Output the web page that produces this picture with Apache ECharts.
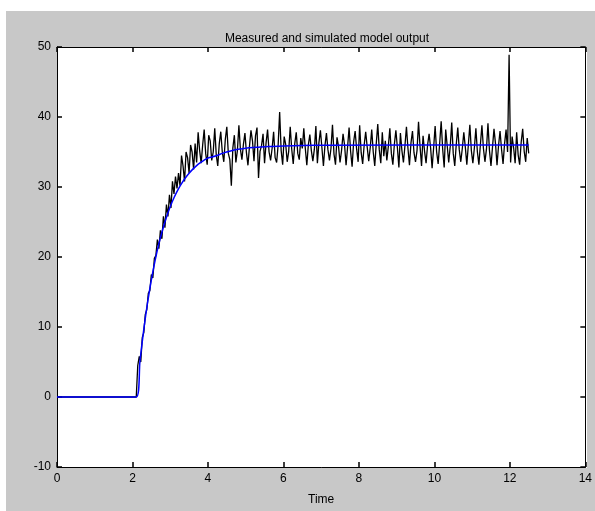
<!DOCTYPE html>
<html>
<head>
<meta charset="utf-8">
<title>Measured and simulated model output</title>
<script src="https://cdn.jsdelivr.net/npm/echarts@6/dist/echarts.min.js"></script>
<style>
    html, body {
        margin: 0;
        padding: 0;
        background: #fff;
    }
    .figure {
        position: absolute;
        left: 6px;
        top: 11px;
        width: 589px;
        height: 500px;
        background: #c8c8c8;
    }
    .plot-bg {
        position: absolute;
        left: 57px;
        top: 47px;
        width: 530px;
        height: 421px;
        background: #fff;
    }
    #chart {
        position: absolute;
        left: 0;
        top: 0;
        width: 595px;
        height: 511px;
    }
</style>
</head>
<body>
<div class="figure"></div>
<div class="plot-bg"></div>
<div id="chart"></div>
<script>
// axis ticks
var xTicks = [0, 2, 4, 6, 8, 10, 12, 14];
var yTicks = [-10, 0, 10, 20, 30, 40, 50];

// simulated model output (blue)
var simTime = [0, 2.1, 2.2, 2.3, 2.4, 2.5, 2.6, 2.7, 2.8, 2.9, 3.0, 3.1, 3.2, 3.3, 3.4,
    3.5, 3.6, 3.7, 3.8, 3.9, 4.0, 4.2, 4.4, 4.6, 4.8, 5.0, 5.3, 5.6, 6.0, 6.5, 7.1, 12.5];
var simValue = [0, 0, 5.21, 9.67, 13.47, 16.73, 19.52, 21.91, 23.94, 25.69, 27.18, 28.46,
    29.55, 30.48, 31.28, 31.96, 32.55, 33.05, 33.47, 33.84, 34.15, 34.42, 34.84, 35.15,
    35.38, 35.55, 35.67, 35.79, 35.87, 35.93, 35.97, 36.0, 36.0];

// measured output (black): zero until the step, then one sample every 0.04 s from 2.1 s
var measStart = 2.1;
var measStep = 0.04;
var measRise = [
    0, 4.5, 5.8, 5.0, 8.5, 9.2, 11.8, 12.5, 14.8, 15.2, 17.5, 17.0,
    19.8, 20.2, 22.5, 21.2, 23.8, 22.6, 25.8, 24.2, 27.5, 25.8, 28.9, 27.0,
    30.8, 29.0, 31.5, 29.8, 32.0, 30.2, 34.5, 33.0, 30.8, 35.0, 34.2, 32.0,
    36.0, 35.0, 32.5, 36.2, 33.5
];
var measSteady = [
    37.8, 35.2, 33.4, 36.0, 38.2, 34.8, 33.2, 37.4, 36.6, 33.8,
    35.0, 38.4, 34.6, 33.0, 36.2, 37.9, 35.0, 33.6, 36.8, 38.6,
    34.8, 33.9, 30.2, 35.6, 37.4, 33.5, 35.2, 38.8, 35.4, 33.9,
    36.1, 37.7, 34.9, 33.1, 35.8, 38.1, 36.6, 33.7, 37.3, 38.5,
    31.3, 35.1, 35.9, 37.6, 33.4, 36.3, 38.2, 35.0, 33.8, 35.5,
    37.9, 34.2, 33.5, 36.0, 40.7, 35.2, 33.2, 37.2, 36.1, 33.6,
    35.1, 38.6, 35.4, 33.3, 36.2, 37.8, 34.8, 33.9, 37.0, 35.5,
    38.4, 35.5, 33.1, 36.0, 37.5, 35.2, 33.7, 35.4, 38.7, 33.4,
    36.3, 38.1, 35.6, 33.0, 35.9, 37.7, 35.3, 33.8, 35.5, 38.9,
    34.7, 33.2, 37.1, 35.8, 33.5, 35.2, 37.6, 36.0, 33.1, 35.7,
    38.5, 35.1, 32.9, 36.4, 38.0, 35.4, 33.6, 38.8, 34.9, 33.3,
    36.0, 37.9, 35.7, 33.7, 35.6, 38.2, 35.0, 33.0, 36.2, 39.0,
    35.3, 33.4, 37.8, 34.4, 36.6, 33.8, 35.8, 38.4, 34.8, 33.2,
    36.1, 38.1, 35.6, 32.8, 37.7, 35.2, 33.5, 35.9, 38.6, 35.5,
    33.1, 36.3, 38.0, 34.9, 33.6, 35.2, 39.3, 35.8, 33.0, 37.3,
    35.1, 33.4, 36.0, 37.6, 35.6, 32.7, 35.6, 38.7, 35.0, 33.3,
    36.2, 39.4, 35.4, 32.8, 38.2, 35.9, 33.5, 35.8, 39.2, 34.8,
    33.0, 36.1, 38.5, 35.3, 33.6, 35.5, 37.8, 35.7, 33.2, 36.0,
    38.9, 35.2, 33.4, 35.6, 38.4, 35.0, 33.2, 36.1, 38.8, 35.5,
    33.6, 35.4, 39.1, 35.2, 33.0, 35.7, 38.3, 36.2, 33.1, 35.9,
    38.0, 35.4, 33.3, 36.2, 38.2, 35.0, 48.9, 33.5, 37.2, 35.6,
    33.4, 37.8, 34.6, 33.2, 36.4, 38.3, 35.1, 33.6, 37.0, 34.8
];
var measValue = measRise.concat(measSteady);

var simData = simTime.map(function (t, i) {
    return [t, simValue[i]];
});
var measData = [[0, 0]].concat(measValue.map(function (v, i) {
    return [measStart + i * measStep, v];
}));

var font = "Liberation Sans, Arial, Helvetica, sans-serif";

// MATLAB-style box: every side gets a line and inward ticks
function frameAxis(extra) {
    var base = {
        type: "value",
        axisLine: { show: true, onZero: false, lineStyle: { color: "#000", width: 1 } },
        axisTick: { show: true, inside: true, length: 5, lineStyle: { color: "#000", width: 1.5 } },
        splitLine: { show: false },
        axisLabel: { show: false }
    };
    return Object.assign(base, extra);
}

var chart = echarts.init(document.getElementById("chart"));
chart.setOption({
    animation: false,
    backgroundColor: "transparent",
    title: {
        text: "Measured and simulated model output",
        left: 322,
        textAlign: "center",
        top: 28,
        textStyle: {
            fontFamily: font,
            fontSize: 12,
            fontWeight: "normal",
            color: "#000"
        }
    },
    grid: {
        left: 57,
        right: 8,
        top: 47,
        bottom: 43
    },
    xAxis: [
        frameAxis({
            position: "bottom",
            min: 0,
            max: 14,
            interval: 2,
            name: "Time",
            nameLocation: "middle",
            nameGap: 27,
            nameTextStyle: { fontFamily: font, fontSize: 12, color: "#000" },
            axisLabel: { show: true, fontFamily: font, fontSize: 12, color: "#000", margin: 6 }
        }),
        frameAxis({ position: "top", min: 0, max: 14, interval: 2 })
    ],
    yAxis: [
        frameAxis({
            position: "left",
            min: -10,
            max: 50,
            interval: 10,
            axisLabel: { show: true, fontFamily: font, fontSize: 12, color: "#000", margin: 6 }
        }),
        frameAxis({ position: "right", min: -10, max: 50, interval: 10 })
    ],
    series: [
        {
            name: "measured",
            type: "line",
            data: measData,
            showSymbol: false,
            lineStyle: { color: "#000", width: 1.3 },
            z: 2
        },
        {
            name: "simulated",
            type: "line",
            data: simData,
            showSymbol: false,
            smooth: 0.3,
            lineStyle: { color: "#0000ff", width: 1.5 },
            z: 3
        }
    ]
});
</script>
</body>
</html>
